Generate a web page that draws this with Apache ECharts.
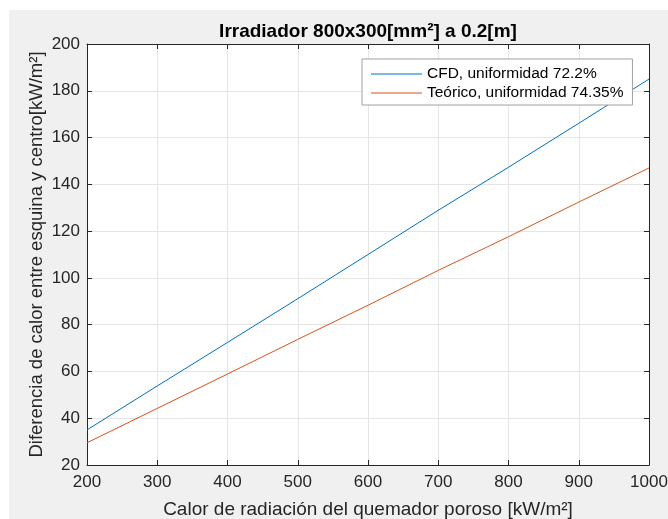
<!DOCTYPE html>
<html>
<head>
<meta charset="utf-8">
<script src="https://cdn.jsdelivr.net/npm/echarts@6/dist/echarts.min.js"></script>
<style>
  html, body { margin: 0; padding: 0; background: #ffffff; }
  #bg { position: absolute; left: 9px; top: 10px; width: 659px; height: 509px; background: #f0f0f0; }
  #chart { position: absolute; left: 0; top: 0; width: 668px; height: 519px; }
</style>
</head>
<body>
<div id="bg"></div>
<div id="chart"></div>
<script>
const titleText = 'Irradiador 800x300[mm²] a 0.2[m]';
const xName = 'Calor de radiación del quemador poroso [kW/m²]';
const yName = 'Diferencia de calor entre esquina y centro[kW/m²]';
const seriesNames = ['CFD, uniformidad 72.2%', 'Teórico, uniformidad 74.35%'];
const xValues = [200, 300, 400, 500, 600, 700, 800, 900, 1000];
const cfdValues = [35, 53.8, 72.4, 91.1, 110, 128.9, 147.3, 166.1, 185];
const teoricoValues = [29.5, 44.2, 58.9, 73.7, 88.3, 103.2, 117.6, 132.4, 147];

const axisColor = '#262626';
const gridColor = '#e5e5e5';
const fontFam = '"Liberation Sans", Arial, Helvetica, sans-serif';

const chart = echarts.init(document.getElementById('chart'), null, { renderer: 'canvas' });
const ghostAxis = {
  axisLabel: { show: false },
  axisTick: { show: true, inside: true, length: 5, lineStyle: { color: axisColor } },
  axisLine: { show: true, lineStyle: { color: axisColor, width: 1 } },
  splitLine: { show: false }
};
const plain = v => String(v);
chart.setOption({
  backgroundColor: 'transparent',
  animation: false,
  textStyle: { fontFamily: fontFam },
  title: {
    text: titleText,
    left: 368, top: 22, textAlign: 'center', padding: 0,
    textStyle: { fontSize: 19, fontWeight: 'bold', color: '#000', fontFamily: fontFam }
  },
  grid: {
    left: 87, right: 19, top: 44, bottom: 54,
    containLabel: false, outerBoundsMode: 'none',
    show: true, backgroundColor: '#ffffff', borderWidth: 0
  },
  legend: {
    orient: 'vertical',
    left: 362, top: 59,
    padding: [7, 9, 4, 9],
    icon: 'rect',
    itemWidth: 51, itemHeight: 1, itemGap: 3, itemTextGap: 5,
    backgroundColor: '#ffffff',
    borderColor: '#a0a0a0', borderWidth: 1, borderRadius: 0,
    textStyle: { fontSize: 15.5, color: '#000', fontFamily: fontFam, lineHeight: 16 },
    data: seriesNames
  },
  xAxis: [
    {
      type: 'value', min: 200, max: 1000, interval: 100, position: 'bottom',
      name: xName, nameLocation: 'middle', nameGap: 35, nameMoveOverlap: false,
      nameTextStyle: { fontSize: 19, color: axisColor, fontFamily: fontFam },
      axisLabel: { fontSize: 17, color: axisColor, margin: 9, fontFamily: fontFam, formatter: plain },
      axisTick: { show: true, inside: true, length: 5, lineStyle: { color: axisColor } },
      axisLine: { show: true, onZero: false, lineStyle: { color: axisColor, width: 1 } },
      splitLine: { show: true, lineStyle: { color: gridColor, width: 1 } }
    },
    Object.assign({ type: 'value', min: 200, max: 1000, interval: 100, position: 'top' }, ghostAxis)
  ],
  yAxis: [
    {
      type: 'value', min: 20, max: 200, interval: 20, position: 'left',
      name: yName, nameLocation: 'middle', nameGap: 41, nameRotate: 90, nameMoveOverlap: false,
      nameTextStyle: { fontSize: 18.5, color: axisColor, fontFamily: fontFam },
      axisLabel: { fontSize: 17, color: axisColor, margin: 7, fontFamily: fontFam, formatter: plain },
      axisTick: { show: true, inside: true, length: 5, lineStyle: { color: axisColor } },
      axisLine: { show: true, onZero: false, lineStyle: { color: axisColor, width: 1 } },
      splitLine: { show: true, lineStyle: { color: gridColor, width: 1 } }
    },
    Object.assign({ type: 'value', min: 20, max: 200, interval: 20, position: 'right' }, ghostAxis)
  ],
  series: [
    {
      name: seriesNames[0], type: 'line', xAxisIndex: 0, yAxisIndex: 0,
      symbol: 'none', color: '#0072BD',
      lineStyle: { width: 1, color: '#0072BD' },
      data: xValues.map((x, i) => [x, cfdValues[i]])
    },
    {
      name: seriesNames[1], type: 'line', xAxisIndex: 0, yAxisIndex: 0,
      symbol: 'none', color: '#D95319',
      lineStyle: { width: 1, color: '#D95319' },
      data: xValues.map((x, i) => [x, teoricoValues[i]])
    }
  ]
});
</script>
</body>
</html>
